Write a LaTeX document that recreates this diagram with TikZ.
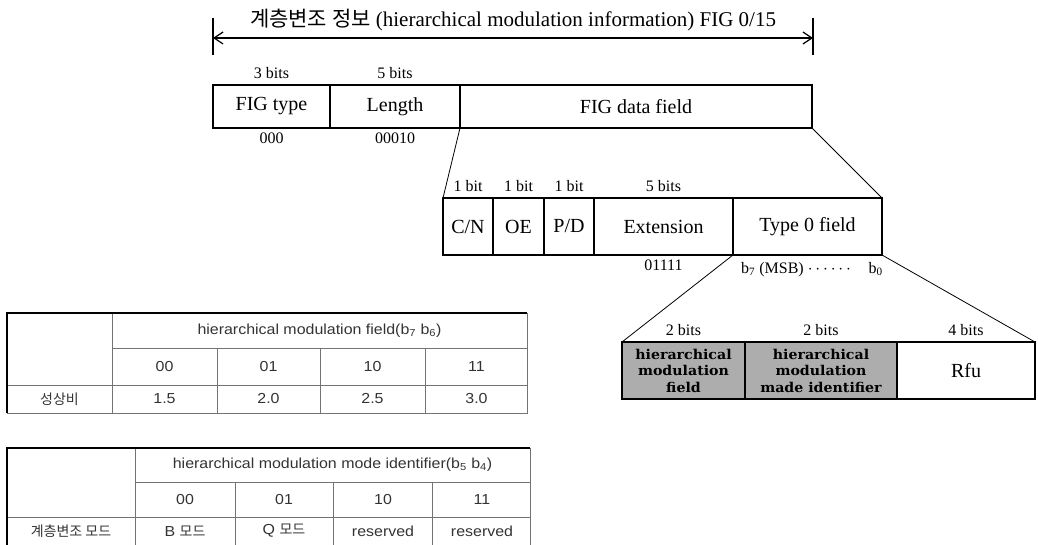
\documentclass[tikz,border=0pt]{standalone}
\usepackage{fontspec}
\setmainfont{Liberation Serif}
\newfontfamily\krfont{Noto Sans CJK KR}
\newfontfamily\tabfont[FakeStretch=1.1]{Liberation Sans}
\newfontfamily\shadefont[FakeStretch=1.05]{DejaVu Serif}
\usetikzlibrary{arrows.meta,positioning}

\begin{document}
\begin{tikzpicture}[
  x=1pt, y=-1pt,
  node distance=5pt and 5pt,
  fld/.style={draw, line width=1.3pt, inner sep=0pt, outer sep=0pt, minimum height=43pt, align=center, font=\fontsize{20}{22}\selectfont},
  bits/.style={inner sep=1pt, font=\fontsize{16}{18}\selectfont},
  shade/.style={fld, fill=black!32, font=\shadefont\bfseries\fontsize{13.5}{16.5}\selectfont},
  fan/.style={line width=0.8pt},
  tline/.style={black!55, line width=0.6pt},
  tedge/.style={black, line width=1.6pt},
  tcell/.style={inner sep=0pt, text=black!80, font=\tabfont\fontsize{14.5}{17}\selectfont}
]
\useasboundingbox (0,0) rectangle (1038,545);

% overall span
\coordinate (tl) at (213,18);
\coordinate (bl) at (213,55);
\coordinate (tr) at (813,18);
\coordinate (br) at (813,55);
\coordinate (al) at (213,38);
\coordinate (ar) at (813,38);
\draw[line width=1.2pt] (tl) -- (bl);
\draw[line width=1.2pt] (tr) -- (br);
\draw[{Straight Barb[length=9pt,width=12pt]}-{Straight Barb[length=9pt,width=12pt]}, line width=1.2pt] (al) -- (ar);
\node[font=\fontsize{21}{23}\selectfont] (title) at (513,20) {{\krfont 계층변조 정보} (hierarchical modulation information) FIG 0/15};

% FIG header
\node[fld, minimum width=117pt, anchor=north west] (ft) at (213,85) {FIG type};
\node[fld, minimum width=130pt, right=0pt of ft] (len) {Length};
\node[fld, minimum width=352pt, right=0pt of len] (data) {FIG data field};
\node[bits, above=5pt of ft] (ftb) {3 bits};
\node[bits, above=5pt of len] (lenb) {5 bits};
\node[bits, below=4pt of ft] (ftv) {000};
\node[bits, below=4pt of len] (lenv) {00010};

% FIG data field
\node[fld, minimum width=50pt, minimum height=57pt, anchor=north west] (cn) at (443,198) {C/N};
\node[fld, minimum width=51pt, minimum height=57pt, right=0pt of cn] (oe) {OE};
\node[fld, minimum width=50pt, minimum height=57pt, right=0pt of oe] (pd) {P/D};
\node[fld, minimum width=139pt, minimum height=57pt, right=0pt of pd] (ext) {Extension};
\node[fld, minimum width=149pt, minimum height=57pt, right=0pt of ext] (t0) {Type 0 field};
\node[bits, above=5pt of cn] (cnb) {1 bit};
\node[bits, above=5pt of oe] (oeb) {1 bit};
\node[bits, above=5pt of pd] (pdb) {1 bit};
\node[bits, above=5pt of ext] (extb) {5 bits};
\node[bits, below=4pt of ext] (extv) {01111};
\node[bits, below right=6pt and 7pt of t0.south west] (msb) {b\textsubscript{7} (MSB) $\cdots\cdots$};
\node[bits, below left=6pt and -2pt of t0.south east] (lsb) {b\textsubscript{0}};

% Type 0 field
\node[shade, minimum width=123pt, minimum height=57pt, anchor=north west] (hmf) at (622,342) {hierarchical\\modulation\\field};
\node[shade, minimum width=152pt, minimum height=57pt, right=0pt of hmf] (hmm) {hierarchical\\modulation\\made identifier};
\node[fld, minimum width=138pt, minimum height=57pt, right=0pt of hmm] (rfu) {Rfu};
\node[bits, above=5pt of hmf] (hmfb) {2 bits};
\node[bits, above=5pt of hmm] (hmmb) {2 bits};
\node[bits, above=5pt of rfu] (rfub) {4 bits};

\draw[fan] (len.south east) -- (cn.north west);
\draw[fan] (data.south east) -- (t0.north east);
\draw[fan] (ext.south east) -- (hmf.north west);
\draw[fan] (t0.south east) -- (rfu.north east);

% table: hierarchical modulation field
\draw[tline] (527,313) -- (527,413) -- (7,413);
\draw[tline] (112,348) -- (527,348);
\draw[tline] (7,385) -- (527,385);
\draw[tline] (112,313) -- (112,413);
\foreach \x in {217,320,425} \draw[tline] (\x,348) -- (\x,413);
\draw[tedge] (7,413) -- (7,313) -- (527,313);
\node[tcell] (fhead) at (319.5,330.5) {hierarchical modulation field(b\textsubscript{7} b\textsubscript{6})};
\foreach \v [count=\i] in {00,01,10,11}
  \node[tcell] (fv\i) at ({60.5+104*\i},366.5) {\v};
\node[tcell, font=\krfont\fontsize{14}{16}\selectfont] (fname) at (59.5,399) {성상비};
\foreach \v [count=\i] in {1.5,2.0,2.5,3.0}
  \node[tcell] (fr\i) at ({60.5+104*\i},399) {\v};

% table: hierarchical modulation mode identifier
\draw[tline] (530,448) -- (530,545);
\draw[tline] (135,482) -- (530,482);
\draw[tline] (7,517) -- (530,517);
\draw[tline] (135,448) -- (135,545);
\foreach \x in {235,333,432} \draw[tline] (\x,482) -- (\x,545);
\draw[tedge] (7,545) -- (7,448) -- (530,448);
\node[tcell] (mhead) at (332.5,465) {hierarchical modulation mode identifier(b\textsubscript{5} b\textsubscript{4})};
\foreach \v [count=\i] in {00,01,10,11}
  \node[tcell] (mv\i) at ({86+99*\i},499.5) {\v};
\node[tcell, font=\krfont\fontsize{14}{16}\selectfont] (mname) at (71,531) {계층변조 모드};
\node[tcell] (mr1) at (185,531) {B {\krfont\fontsize{14}{16}\selectfont 모드}};
\node[tcell] (mr2) at (284,531) {Q {\krfont\fontsize{14}{16}\selectfont 모드}};
\node[tcell] (mr3) at (383,531) {reserved};
\node[tcell] (mr4) at (482,531) {reserved};
\end{tikzpicture}
\end{document}
